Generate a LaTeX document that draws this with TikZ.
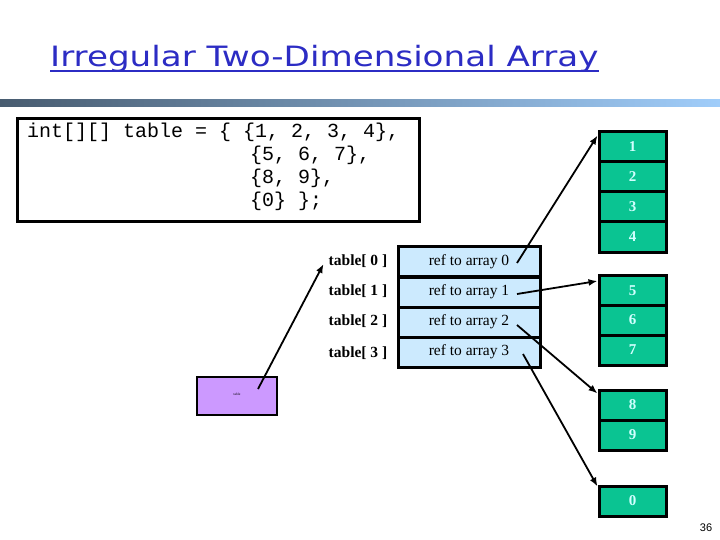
\documentclass[tikz,border=0pt]{standalone}
\usepackage{fontspec}
\usetikzlibrary{arrows.meta}
\setmainfont{Liberation Serif}
\setmonofont{Liberation Mono}
\newfontfamily\titlefont{DejaVu Sans}
\newfontfamily\pagefont{Liberation Sans}

\definecolor{titleblue}{RGB}{44,44,196}
\definecolor{barleft}{RGB}{72,92,112}
\definecolor{barright}{RGB}{160,205,250}
\definecolor{refblue}{RGB}{204,234,254}
\definecolor{numgreen}{RGB}{10,196,146}
\definecolor{numtext}{RGB}{210,255,255}
\definecolor{varpurple}{RGB}{204,153,255}

\tikzset{
  refcell/.style={draw, line width=3pt, fill=refblue, rectangle, minimum width=142pt, minimum height=30pt, inner sep=0pt, font=\fontsize{15.5}{16}\selectfont},
  numcell/.style={draw, line width=3pt, fill=numgreen, rectangle, minimum width=67pt, minimum height=30pt, inner sep=0pt, text=numtext, font=\fontsize{15}{16}\selectfont\bfseries},
  idx/.style={inner sep=0pt, font=\fontsize{15.5}{16}\selectfont\bfseries},
  codeline/.style={anchor=base west, inner sep=0pt, font=\ttfamily\fontsize{20}{23}\selectfont},
  ptr/.style={->, line width=1.8pt},
}

\begin{document}
\begin{tikzpicture}[>={Latex[length=9pt,width=7pt]}, x=1pt, y=-1pt]
\useasboundingbox (0,0) rectangle (720,540);
\fill[white] (0,0) rectangle (720,540);

% title and bar
\node(Title)[anchor=base west, inner sep=0pt, text=titleblue] at (50,67) {\titlefont\fontsize{28}{30}\selectfont\scalebox{1.22}[1]{Irregular Two-Dimensional Array}};
\draw[titleblue, line width=2pt] ([yshift=-4pt]Title.base west) -- ([yshift=-4pt]Title.base east);
\shade[left color=barleft, right color=barright] (0,100) rectangle (720,107);

% declaration
\node(Code)[draw, line width=3pt, rectangle, minimum width=402pt, minimum height=103pt] at (218,170.5) {};
\node(Code1)[codeline] at (27,138) {int[][] table = \{ \{1, 2, 3, 4\},};
\node(Code2)[codeline] at (250,161) {\{5, 6, 7\},};
\node(Code3)[codeline] at (250,184) {\{8, 9\},};
\node(Code4)[codeline] at (250,207) {\{0\} \};};

% the variable
\node(Var)[draw, line width=2pt, fill=varpurple, rectangle, minimum width=80pt, minimum height=38pt, inner sep=0pt] at (237,396) {};
\node(VarName)[inner sep=0pt, font=\fontsize{3.5}{4}\selectfont] at (237,394) {table};
\coordinate(VarRef) at (258,389);

% array of references
\node(R0)[refcell] at (469,261.5) {ref to array 0};
\node(R1)[refcell] at (469,292) {ref to array 1};
\node(R2)[refcell] at (469,322) {ref to array 2};
\node(R3)[refcell] at (469,352) {ref to array 3};

\node(T0)[idx] at (358,261) {table[ 0 ]};
\node(T1)[idx] at (358,291) {table[ 1 ]};
\node(T2)[idx] at (358,321) {table[ 2 ]};
\node(T3)[idx] at (358,353) {table[ 3 ]};

\coordinate(S0) at (517,263);
\coordinate(S1) at (517,294);
\coordinate(S2) at (517,325);
\coordinate(S3) at (523,354);

% rows
\node(A1)[numcell] at (632.5,147) {1};
\node(A2)[numcell] at (632.5,177) {2};
\node(A3)[numcell] at (632.5,207) {3};
\node(A4)[numcell] at (632.5,237) {4};

\node(A5)[numcell] at (632.5,290.5) {5};
\node(A6)[numcell] at (632.5,320) {6};
\node(A7)[numcell] at (632.5,350) {7};

\node(A8)[numcell] at (632.5,405) {8};
\node(A9)[numcell] at (632.5,435) {9};

\node(A0)[numcell] at (632.5,501) {0};

% references
\draw (VarRef) edge[ptr] ([shift={(-5pt,-3pt)}]T0.west);
\draw (S0) edge[ptr] ([yshift=-5pt]A1.north west);
\draw (S1) edge[ptr] ([yshift=-7pt]A5.north west);
\draw (S2) edge[ptr] ([yshift=-5pt]A8.north west);
\draw (S3) edge[ptr] ([yshift=-2pt]A0.north west);

\node(Page)[inner sep=0pt, font=\pagefont\fontsize{11}{12}\selectfont] at (706,528) {36};
\end{tikzpicture}
\end{document}
